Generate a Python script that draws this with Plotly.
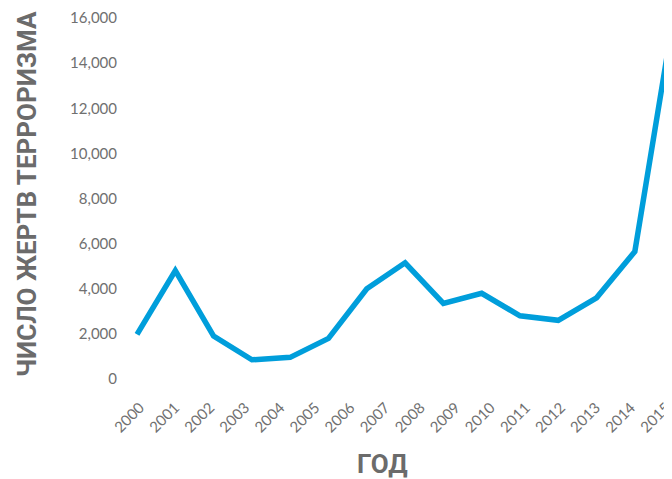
import plotly.graph_objects as go

# Data
years = [2000, 2001, 2002, 2003, 2004, 2005, 2006, 2007, 2008, 2009, 2010, 2011, 2012, 2013, 2014]
deaths = [1980, 4800, 1900, 850, 960, 1800, 4000, 5150, 3350, 3800, 2800, 2600, 3600, 5650, 15950]

label_years = list(range(2000, 2016))
y_ticks = [0, 2000, 4000, 6000, 8000, 10000, 12000, 14000, 16000]

# page has an 8px body margin, so the figure is sized to fill the rest
W, H = 664, 471
L, R, T, B = 116, 0, 10, 100
PW, PH = W - L - R, H - T - B

fig = go.Figure()
fig.add_trace(go.Scatter(
    x=years, y=deaths, mode="lines",
    line=dict(color="#009edb", width=5.5),
    hoverinfo="skip", showlegend=False,
))
# helper trace for the label axis (draws nothing)
fig.add_trace(go.Scatter(
    x=label_years, y=[None] * len(label_years), mode="lines",
    xaxis="x2", hoverinfo="skip", showlegend=False,
))

tick_font = dict(family="Lato, sans-serif", size=15, color="#707070")

fig.update_layout(
    template="none",
    width=W, height=H,
    margin=dict(l=L, r=R, t=T, b=B),
    paper_bgcolor="white", plot_bgcolor="white",
    xaxis=dict(range=[1999.66, 2013.97], showticklabels=False, showgrid=False,
               zeroline=False, showline=False, ticks="", automargin=False),
    xaxis2=dict(range=[1999.545, 2015.17], overlaying="x", anchor="y", side="bottom",
                tickmode="array", tickvals=label_years, ticktext=[str(v) for v in label_years],
                tickangle=-45, tickfont=tick_font, showgrid=False, zeroline=False,
                showline=False, ticks="", ticklabelstandoff=16, automargin=False,
                ticklabeloverflow="allow"),
    yaxis=dict(range=[0, 16000], tickmode="array", tickvals=y_ticks, tickformat=",d",
               tickfont=tick_font, showgrid=False, zeroline=False, showline=False,
               ticks="", ticklabelstandoff=6, automargin=False),
    annotations=[
        dict(text="ЧИСЛО ЖЕРТВ ТЕРРОРИЗМА", xref="paper", yref="paper",
             x=(19 - L) / PW, y=(H - 186 - B) / PH,
             xanchor="center", yanchor="middle", textangle=-90, showarrow=False,
             font=dict(family="Roboto, sans-serif", size=26, color="#6b6b6b", weight="bold")),
        dict(text="ГОД", xref="paper", yref="paper",
             x=(374 - L) / PW, y=(H - 456 - B) / PH,
             xanchor="center", yanchor="middle", showarrow=False,
             font=dict(family="Roboto, sans-serif", size=26, color="#6b6b6b", weight="bold")),
    ],
)

fig.write_html("out.html")
